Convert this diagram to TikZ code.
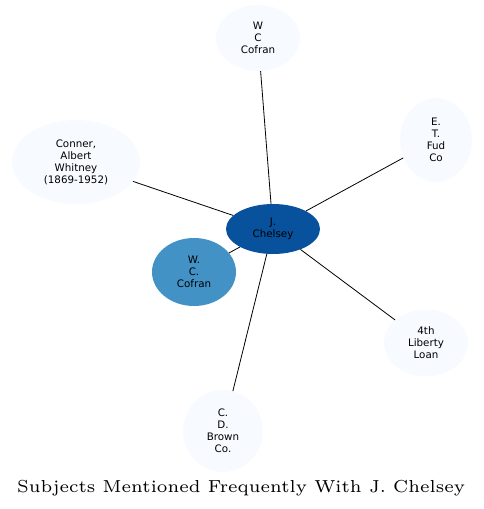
\documentclass[tikz,border=0pt]{standalone}
\usepackage{fontspec}
\usepackage{tikz}
\usetikzlibrary{shapes.geometric}
\usepackage{xcolor}
\newfontfamily\nodefont{DejaVu Sans}
\definecolor{pale}{HTML}{F7FBFF}
\definecolor{midblue}{HTML}{4292C6}
\definecolor{deepblue}{HTML}{08519C}

\begin{document}
\begin{tikzpicture}[x=1pt,y=-1pt,
    subj/.style={ellipse,fill=pale,inner sep=0pt,align=center,
      font=\nodefont\fontsize{10.3}{12}\selectfont},
    link/.style={black,line width=0.8pt}]
    \useasboundingbox (0,0) rectangle (484,509);
    \node[subj,fill=deepblue,minimum width=94pt,minimum height=50pt] (chelsey) at (273,229) {J.\\Chelsey};
    \node[subj,minimum width=84pt,minimum height=66pt] (wcofran) at (258,38) {W\\C\\Cofran};
    \node[subj,minimum width=128pt,minimum height=84pt] (conner) at (76,162) {Conner,\\Albert\\Whitney\\(1869-1952)};
    \node[subj,minimum width=72pt,minimum height=84pt] (fud) at (436,140) {E.\\T.\\Fud\\Co};
    \node[subj,fill=midblue,minimum width=84pt,minimum height=68pt] (wccofran) at (194,272) {W.\\C.\\Cofran};
    \node[subj,minimum width=84pt,minimum height=67pt] (loan) at (426,343) {4th\\Liberty\\Loan};
    \node[subj,minimum width=80pt,minimum height=82pt] (brown) at (223,431) {C.\\D.\\Brown\\Co.};
    \draw[link] (chelsey) -- (wcofran);
    \draw[link] (chelsey) -- (conner);
    \draw[link] (chelsey) -- (fud);
    \draw[link] (chelsey) -- (wccofran);
    \draw[link] (chelsey) -- (loan);
    \draw[link] (chelsey) -- (brown);
    \node[scale=2.9,transform shape,inner sep=0pt,font=\fontsize{6}{7}\selectfont] (title) at (241,488) {Subjects Mentioned Frequently With J. Chelsey};
  \end{tikzpicture}
\end{document}
